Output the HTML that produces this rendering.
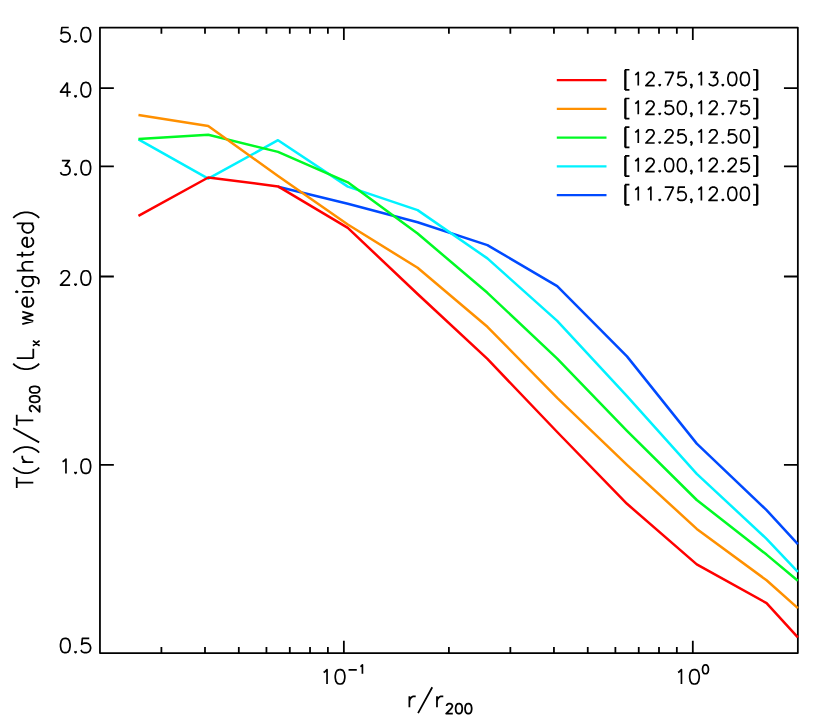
<!DOCTYPE html>
<html><head><meta charset="utf-8"><title>T(r)/T200 profile</title>
<style>
html,body{margin:0;padding:0;background:#fff;font-family:"Liberation Sans",sans-serif;}
svg{display:block;}
</style></head>
<body>
<svg width="830" height="718" viewBox="0 0 830 718">
<rect x="0" y="0" width="830" height="718" fill="#ffffff"/>
<path d="M99.95 27.6 H797.85 V653.1 H99.95 Z M99.95 653.1 v-6.2 M99.95 27.6 v6.2 M161.4 653.1 v-6.2 M161.4 27.6 v6.2 M204.99 653.1 v-6.2 M204.99 27.6 v6.2 M238.81 653.1 v-6.2 M238.81 27.6 v6.2 M266.44 653.1 v-6.2 M266.44 27.6 v6.2 M289.8 653.1 v-6.2 M289.8 27.6 v6.2 M310.04 653.1 v-6.2 M310.04 27.6 v6.2 M327.89 653.1 v-6.2 M327.89 27.6 v6.2 M343.86 653.1 v-12.45 M343.86 27.6 v12.45 M448.9 653.1 v-6.2 M448.9 27.6 v6.2 M510.35 653.1 v-6.2 M510.35 27.6 v6.2 M553.94 653.1 v-6.2 M553.94 27.6 v6.2 M587.76 653.1 v-6.2 M587.76 27.6 v6.2 M615.39 653.1 v-6.2 M615.39 27.6 v6.2 M638.75 653.1 v-6.2 M638.75 27.6 v6.2 M658.99 653.1 v-6.2 M658.99 27.6 v6.2 M676.84 653.1 v-6.2 M676.84 27.6 v6.2 M692.81 653.1 v-12.45 M692.81 27.6 v12.45 M797.85 653.1 v-6.2 M797.85 27.6 v6.2 M99.95 653.1 h13.9 M797.85 653.1 h-13.9 M99.95 464.81 h13.9 M797.85 464.81 h-13.9 M99.95 276.51 h13.9 M797.85 276.51 h-13.9 M99.95 166.37 h13.9 M797.85 166.37 h-13.9 M99.95 88.22 h13.9 M797.85 88.22 h-13.9 M99.95 27.6 h13.9 M797.85 27.6 h-13.9" fill="none" stroke="#000" stroke-width="1.78" stroke-linecap="butt" stroke-linejoin="round"/>
<g fill="none" stroke-width="2.5" stroke-linejoin="round" stroke-linecap="butt">
<polyline stroke="#004aff" points="278.03,186.8 347.82,203.7 417.61,222.2 487.4,245.1 557.19,286.1 626.98,356.4 696.77,443.6 766.56,510.1 797.85,544.1"/>
<polyline stroke="#00f2ff" points="138.45,139.3 208.24,178.7 278.03,140.2 347.82,186.6 417.61,210.1 487.4,258.4 557.19,320.9 626.98,396.2 696.77,473.9 766.56,538.8 797.85,571.9"/>
<polyline stroke="#00fa24" points="138.45,138.9 208.24,134.7 278.03,151.9 347.82,182.3 417.61,233.5 487.4,292.8 557.19,358.7 626.98,430.9 696.77,500 766.56,554.6 797.85,580.8"/>
<polyline stroke="#ff9000" points="138.45,115 208.24,125.9 278.03,176 347.82,224.5 417.61,267.8 487.4,326.8 557.19,397.8 626.98,464.8 696.77,528.9 766.56,580.3 797.85,608.1"/>
<polyline stroke="#ff0000" points="138.45,215.9 208.24,177.5 278.03,186.4 347.82,227.9 417.61,294 487.4,358.9 557.19,432 626.98,503.8 696.77,564.4 766.56,603.1 797.85,637.4"/>
</g>
<path d="M64.61 638.34 L62.55 639.02 L61.19 641.07 L60.5 644.49 L60.5 646.54 L61.19 649.96 L62.55 652.02 L64.61 652.7 L65.97 652.7 L68.03 652.02 L69.39 649.96 L70.08 646.54 L70.08 644.49 L69.39 641.07 L68.03 639.02 L65.97 638.34 L64.61 638.34 M75.55 651.33 L74.87 652.02 L75.55 652.7 L76.23 652.02 L75.55 651.33 M89.23 638.34 L82.39 638.34 L81.71 644.49 L82.39 643.81 L84.44 643.12 L86.49 643.12 L88.55 643.81 L89.91 645.18 L90.6 647.23 L90.6 648.6 L89.91 650.65 L88.55 652.02 L86.49 652.7 L84.44 652.7 L82.39 652.02 L81.71 651.33 L81.02 649.96 M62.55 461.78 L63.92 461.09 L65.97 459.04 L65.97 473.41 M75.55 472.04 L74.87 472.72 L75.55 473.41 L76.23 472.72 L75.55 472.04 M85.13 459.04 L83.07 459.73 L81.71 461.78 L81.02 465.2 L81.02 467.25 L81.71 470.67 L83.07 472.72 L85.13 473.41 L86.49 473.41 L88.55 472.72 L89.91 470.67 L90.6 467.25 L90.6 465.2 L89.91 461.78 L88.55 459.73 L86.49 459.04 L85.13 459.04 M61.19 274.17 L61.19 273.48 L61.87 272.12 L62.55 271.43 L63.92 270.75 L66.66 270.75 L68.03 271.43 L68.71 272.12 L69.39 273.48 L69.39 274.85 L68.71 276.22 L67.34 278.27 L60.5 285.11 L70.08 285.11 M75.55 283.74 L74.87 284.43 L75.55 285.11 L76.23 284.43 L75.55 283.74 M85.13 270.75 L83.07 271.43 L81.71 273.48 L81.02 276.9 L81.02 278.96 L81.71 282.38 L83.07 284.43 L85.13 285.11 L86.49 285.11 L88.55 284.43 L89.91 282.38 L90.6 278.96 L90.6 276.9 L89.91 273.48 L88.55 271.43 L86.49 270.75 L85.13 270.75 M61.87 160.6 L69.39 160.6 L65.29 166.07 L67.34 166.07 L68.71 166.76 L69.39 167.44 L70.08 169.49 L70.08 170.86 L69.39 172.91 L68.03 174.28 L65.97 174.97 L63.92 174.97 L61.87 174.28 L61.19 173.6 L60.5 172.23 M75.55 173.6 L74.87 174.28 L75.55 174.97 L76.23 174.28 L75.55 173.6 M85.13 160.6 L83.07 161.29 L81.71 163.34 L81.02 166.76 L81.02 168.81 L81.71 172.23 L83.07 174.28 L85.13 174.97 L86.49 174.97 L88.55 174.28 L89.91 172.23 L90.6 168.81 L90.6 166.76 L89.91 163.34 L88.55 161.29 L86.49 160.6 L85.13 160.6 M67.34 82.45 L60.5 92.03 L70.76 92.03 M67.34 82.45 L67.34 96.82 M75.55 95.45 L74.87 96.13 L75.55 96.82 L76.23 96.13 L75.55 95.45 M85.13 82.45 L83.07 83.14 L81.71 85.19 L81.02 88.61 L81.02 90.66 L81.71 94.08 L83.07 96.13 L85.13 96.82 L86.49 96.82 L88.55 96.13 L89.91 94.08 L90.6 90.66 L90.6 88.61 L89.91 85.19 L88.55 83.14 L86.49 82.45 L85.13 82.45 M68.71 27.5 L61.87 27.5 L61.19 33.66 L61.87 32.97 L63.92 32.29 L65.97 32.29 L68.03 32.97 L69.39 34.34 L70.08 36.39 L70.08 37.76 L69.39 39.81 L68.03 41.18 L65.97 41.86 L63.92 41.86 L61.87 41.18 L61.19 40.5 L60.5 39.13 M75.55 40.5 L74.87 41.18 L75.55 41.86 L76.23 41.18 L75.55 40.5 M85.13 27.5 L83.07 28.18 L81.71 30.24 L81.02 33.66 L81.02 35.71 L81.71 39.13 L83.07 41.18 L85.13 41.86 L86.49 41.86 L88.55 41.18 L89.91 39.13 L90.6 35.71 L90.6 33.66 L89.91 30.24 L88.55 28.18 L86.49 27.5 L85.13 27.5 M323.62 672.37 L324.99 671.69 L327.04 669.64 L327.04 684 M339.35 669.64 L337.3 670.32 L335.93 672.37 L335.25 675.79 L335.25 677.84 L335.93 681.26 L337.3 683.32 L339.35 684 L340.72 684 L342.77 683.32 L344.14 681.26 L344.82 677.84 L344.82 675.79 L344.14 672.37 L342.77 670.32 L340.72 669.64 L339.35 669.64 M348.56 669.97 L356.79 669.97 M360.32 666.61 L361.16 666.19 L362.42 664.93 L362.42 673.75 M678.03 672.37 L679.4 671.69 L681.45 669.64 L681.45 684 M693.76 669.64 L691.71 670.32 L690.34 672.37 L689.66 675.79 L689.66 677.84 L690.34 681.26 L691.71 683.32 L693.76 684 L695.13 684 L697.18 683.32 L698.55 681.26 L699.23 677.84 L699.23 675.79 L698.55 672.37 L697.18 670.32 L695.13 669.64 L693.76 669.64 M705.07 664.93 L703.81 665.35 L702.97 666.61 L702.55 668.71 L702.55 669.97 L702.97 672.07 L703.81 673.33 L705.07 673.75 L705.91 673.75 L707.17 673.33 L708.01 672.07 L708.43 669.97 L708.43 668.71 L708.01 666.61 L707.17 665.35 L705.91 664.93 L705.07 664.93" fill="none" stroke="#000" stroke-width="1.7" stroke-linecap="butt" stroke-linejoin="round"/>
<path d="M409.4 696.27 L409.4 707.3 M409.4 701 L410.19 698.63 L411.77 697.06 L413.34 696.27 L415.71 696.27 M432.25 687.22 L418.07 713.19 M436.98 696.27 L436.98 707.3 M436.98 701 L437.77 698.63 L439.35 697.06 L440.92 696.27 L443.29 696.27 M446.66 706.05 L446.66 705.58 L447.13 704.63 L447.61 704.16 L448.55 703.69 L450.44 703.69 L451.38 704.16 L451.85 704.63 L452.33 705.58 L452.33 706.52 L451.85 707.46 L450.91 708.88 L446.19 713.6 L452.8 713.6 M458.46 703.69 L457.05 704.16 L456.1 705.58 L455.63 707.94 L455.63 709.35 L456.1 711.71 L457.05 713.13 L458.46 713.6 L459.41 713.6 L460.82 713.13 L461.77 711.71 L462.24 709.35 L462.24 707.94 L461.77 705.58 L460.82 704.16 L459.41 703.69 L458.46 703.69 M467.9 703.69 L466.49 704.16 L465.54 705.58 L465.07 707.94 L465.07 709.35 L465.54 711.71 L466.49 713.13 L467.9 713.6 L468.85 713.6 L470.26 713.13 L471.21 711.71 L471.68 709.35 L471.68 707.94 L471.21 705.58 L470.26 704.16 L468.85 703.69 L467.9 703.69 M16.75 482.54 L33.3 482.54 M16.75 488.05 L16.75 477.02 M13.22 467.56 L14.85 469.14 L17.28 470.72 L20.53 472.29 L24.58 473.08 L27.83 473.08 L31.89 472.29 L35.14 470.72 L37.57 469.14 L39.19 467.56 M22.27 462.05 L33.3 462.05 M27 462.05 L24.63 461.26 L23.06 459.68 L22.27 458.11 L22.27 455.74 M13.22 452.59 L14.85 451.02 L17.28 449.44 L20.53 447.86 L24.58 447.08 L27.83 447.08 L31.89 447.86 L35.14 449.44 L37.57 451.02 L39.19 452.59 M13.22 428.16 L39.19 442.35 M16.75 420.28 L33.3 420.28 M16.75 425.8 L16.75 414.77 M32.05 411.39 L31.58 411.39 L30.63 410.92 L30.16 410.45 L29.69 409.5 L29.69 407.62 L30.16 406.67 L30.63 406.2 L31.58 405.73 L32.52 405.73 L33.46 406.2 L34.88 407.14 L39.6 411.86 L39.6 405.26 M29.69 399.59 L30.16 401.01 L31.58 401.95 L33.94 402.42 L35.35 402.42 L37.71 401.95 L39.13 401.01 L39.6 399.59 L39.6 398.65 L39.13 397.23 L37.71 396.29 L35.35 395.82 L33.94 395.82 L31.58 396.29 L30.16 397.23 L29.69 398.65 L29.69 399.59 M29.69 390.15 L30.16 391.57 L31.58 392.51 L33.94 392.98 L35.35 392.98 L37.71 392.51 L39.13 391.57 L39.6 390.15 L39.6 389.21 L39.13 387.79 L37.71 386.85 L35.35 386.38 L33.94 386.38 L31.58 386.85 L30.16 387.79 L29.69 389.21 L29.69 390.15 M13.22 363.68 L14.85 365.26 L17.28 366.84 L20.53 368.41 L24.58 369.2 L27.83 369.2 L31.89 368.41 L35.14 366.84 L37.57 365.26 L39.19 363.68 M16.75 358.17 L33.3 358.17 M33.3 358.17 L33.3 348.71 M32.99 345.81 L39.6 340.62 M32.99 340.62 L39.6 345.81 M22.27 324.23 L33.3 321.08 M22.27 317.92 L33.3 321.08 M22.27 317.92 L33.3 314.77 M22.27 311.62 L33.3 314.77 M27 306.89 L27 297.44 L25.42 297.44 L23.84 298.22 L23.06 299.01 L22.27 300.59 L22.27 302.95 L23.06 304.53 L24.63 306.1 L27 306.89 L28.57 306.89 L30.94 306.1 L32.51 304.53 L33.3 302.95 L33.3 300.59 L32.51 299.01 L30.94 297.44 M16.75 292.71 L17.54 291.92 L16.75 291.13 L15.96 291.92 L16.75 292.71 M22.27 291.92 L33.3 291.92 M22.27 276.95 L34.88 276.95 L37.24 277.74 L38.03 278.52 L38.82 280.1 L38.82 282.46 L38.03 284.04 M24.63 276.95 L23.06 278.52 L22.27 280.1 L22.27 282.46 L23.06 284.04 L24.63 285.62 L27 286.4 L28.57 286.4 L30.94 285.62 L32.51 284.04 L33.3 282.46 L33.3 280.1 L32.51 278.52 L30.94 276.95 M16.75 270.64 L33.3 270.64 M25.42 270.64 L23.06 268.28 L22.27 266.7 L22.27 264.34 L23.06 262.76 L25.42 261.98 L33.3 261.98 M16.75 254.88 L30.15 254.88 L32.51 254.1 L33.3 252.52 L33.3 250.94 M22.27 257.25 L22.27 251.73 M27 247 L27 237.55 L25.42 237.55 L23.84 238.34 L23.06 239.12 L22.27 240.7 L22.27 243.06 L23.06 244.64 L24.63 246.22 L27 247 L28.57 247 L30.94 246.22 L32.51 244.64 L33.3 243.06 L33.3 240.7 L32.51 239.12 L30.94 237.55 M16.75 223.36 L33.3 223.36 M24.63 223.36 L23.06 224.94 L22.27 226.52 L22.27 228.88 L23.06 230.46 L24.63 232.03 L27 232.82 L28.57 232.82 L30.94 232.03 L32.51 230.46 L33.3 228.88 L33.3 226.52 L32.51 224.94 L30.94 223.36 M13.22 217.85 L14.85 216.27 L17.28 214.7 L20.53 213.12 L24.58 212.33 L27.83 212.33 L31.89 213.12 L35.14 214.7 L37.57 216.27 L39.19 217.85" fill="none" stroke="#000" stroke-width="1.78" stroke-linecap="butt" stroke-linejoin="round"/>
<g fill="none" stroke-width="2.2" stroke-linecap="butt">
<path stroke="#ff0000" d="M556.8 80.2 H606.5"/>
<path stroke="#ff9000" d="M556.8 108.93 H606.5"/>
<path stroke="#00fa24" d="M556.8 137.65 H606.5"/>
<path stroke="#00f2ff" d="M556.8 166.38 H606.5"/>
<path stroke="#004aff" d="M556.8 195.1 H606.5"/>
</g>
<path d="M625.02 69.77 L625.02 89.97 M625.65 69.77 L625.65 89.97 M625.02 69.77 L629.44 69.77 M625.02 89.97 L629.44 89.97 M635.12 74.82 L636.38 74.19 L638.27 72.3 L638.27 85.55 M646.48 75.45 L646.48 74.82 L647.11 73.56 L647.74 72.93 L649 72.3 L651.53 72.3 L652.79 72.93 L653.42 73.56 L654.05 74.82 L654.05 76.08 L653.42 77.35 L652.16 79.24 L645.85 85.55 L654.68 85.55 M659.73 84.29 L659.1 84.92 L659.73 85.55 L660.36 84.92 L659.73 84.29 M673.61 72.3 L667.3 85.55 M664.78 72.3 L673.61 72.3 M684.97 72.3 L678.66 72.3 L678.03 77.98 L678.66 77.35 L680.55 76.72 L682.45 76.72 L684.34 77.35 L685.6 78.61 L686.23 80.5 L686.23 81.76 L685.6 83.66 L684.34 84.92 L682.45 85.55 L680.55 85.55 L678.66 84.92 L678.03 84.29 L677.4 83.03 M691.91 84.92 L691.28 85.55 L690.65 84.92 L691.28 84.29 L691.91 84.92 L691.91 86.18 L691.28 87.44 L690.65 88.07 M698.22 74.82 L699.48 74.19 L701.38 72.3 L701.38 85.55 M710.21 72.3 L717.15 72.3 L713.36 77.35 L715.26 77.35 L716.52 77.98 L717.15 78.61 L717.78 80.5 L717.78 81.76 L717.15 83.66 L715.89 84.92 L714 85.55 L712.1 85.55 L710.21 84.92 L709.58 84.29 L708.95 83.03 M722.83 84.29 L722.2 84.92 L722.83 85.55 L723.46 84.92 L722.83 84.29 M731.66 72.3 L729.77 72.93 L728.51 74.82 L727.88 77.98 L727.88 79.87 L728.51 83.03 L729.77 84.92 L731.66 85.55 L732.92 85.55 L734.82 84.92 L736.08 83.03 L736.71 79.87 L736.71 77.98 L736.08 74.82 L734.82 72.93 L732.92 72.3 L731.66 72.3 M744.28 72.3 L742.39 72.93 L741.13 74.82 L740.5 77.98 L740.5 79.87 L741.13 83.03 L742.39 84.92 L744.28 85.55 L745.54 85.55 L747.44 84.92 L748.7 83.03 L749.33 79.87 L749.33 77.98 L748.7 74.82 L747.44 72.93 L745.54 72.3 L744.28 72.3 M756.9 69.77 L756.9 89.97 M757.53 69.77 L757.53 89.97 M753.12 69.77 L757.53 69.77 M753.12 89.97 L757.53 89.97 M625.02 98.5 L625.02 118.69 M625.65 98.5 L625.65 118.69 M625.02 98.5 L629.44 98.5 M625.02 118.69 L629.44 118.69 M635.12 103.55 L636.38 102.92 L638.27 101.02 L638.27 114.28 M646.48 104.18 L646.48 103.55 L647.11 102.29 L647.74 101.66 L649 101.02 L651.53 101.02 L652.79 101.66 L653.42 102.29 L654.05 103.55 L654.05 104.81 L653.42 106.07 L652.16 107.97 L645.85 114.28 L654.68 114.28 M659.73 113.01 L659.1 113.64 L659.73 114.28 L660.36 113.64 L659.73 113.01 M672.35 101.02 L666.04 101.02 L665.41 106.7 L666.04 106.07 L667.93 105.44 L669.83 105.44 L671.72 106.07 L672.98 107.33 L673.61 109.23 L673.61 110.49 L672.98 112.38 L671.72 113.64 L669.83 114.28 L667.93 114.28 L666.04 113.64 L665.41 113.01 L664.78 111.75 M681.18 101.02 L679.29 101.66 L678.03 103.55 L677.4 106.7 L677.4 108.6 L678.03 111.75 L679.29 113.64 L681.18 114.28 L682.45 114.28 L684.34 113.64 L685.6 111.75 L686.23 108.6 L686.23 106.7 L685.6 103.55 L684.34 101.66 L682.45 101.02 L681.18 101.02 M691.91 113.64 L691.28 114.28 L690.65 113.64 L691.28 113.01 L691.91 113.64 L691.91 114.91 L691.28 116.17 L690.65 116.8 M698.22 103.55 L699.48 102.92 L701.38 101.02 L701.38 114.28 M709.58 104.18 L709.58 103.55 L710.21 102.29 L710.84 101.66 L712.1 101.02 L714.63 101.02 L715.89 101.66 L716.52 102.29 L717.15 103.55 L717.15 104.81 L716.52 106.07 L715.26 107.97 L708.95 114.28 L717.78 114.28 M722.83 113.01 L722.2 113.64 L722.83 114.28 L723.46 113.64 L722.83 113.01 M736.71 101.02 L730.4 114.28 M727.88 101.02 L736.71 101.02 M748.07 101.02 L741.76 101.02 L741.13 106.7 L741.76 106.07 L743.65 105.44 L745.54 105.44 L747.44 106.07 L748.7 107.33 L749.33 109.23 L749.33 110.49 L748.7 112.38 L747.44 113.64 L745.54 114.28 L743.65 114.28 L741.76 113.64 L741.13 113.01 L740.5 111.75 M756.9 98.5 L756.9 118.69 M757.53 98.5 L757.53 118.69 M753.12 98.5 L757.53 98.5 M753.12 118.69 L757.53 118.69 M625.02 127.22 L625.02 147.42 M625.65 127.22 L625.65 147.42 M625.02 127.22 L629.44 127.22 M625.02 147.42 L629.44 147.42 M635.12 132.27 L636.38 131.64 L638.27 129.75 L638.27 143 M646.48 132.9 L646.48 132.27 L647.11 131.01 L647.74 130.38 L649 129.75 L651.53 129.75 L652.79 130.38 L653.42 131.01 L654.05 132.27 L654.05 133.53 L653.42 134.8 L652.16 136.69 L645.85 143 L654.68 143 M659.73 141.74 L659.1 142.37 L659.73 143 L660.36 142.37 L659.73 141.74 M665.41 132.9 L665.41 132.27 L666.04 131.01 L666.67 130.38 L667.93 129.75 L670.46 129.75 L671.72 130.38 L672.35 131.01 L672.98 132.27 L672.98 133.53 L672.35 134.8 L671.09 136.69 L664.78 143 L673.61 143 M684.97 129.75 L678.66 129.75 L678.03 135.43 L678.66 134.8 L680.55 134.17 L682.45 134.17 L684.34 134.8 L685.6 136.06 L686.23 137.95 L686.23 139.21 L685.6 141.11 L684.34 142.37 L682.45 143 L680.55 143 L678.66 142.37 L678.03 141.74 L677.4 140.48 M691.91 142.37 L691.28 143 L690.65 142.37 L691.28 141.74 L691.91 142.37 L691.91 143.63 L691.28 144.89 L690.65 145.52 M698.22 132.27 L699.48 131.64 L701.38 129.75 L701.38 143 M709.58 132.9 L709.58 132.27 L710.21 131.01 L710.84 130.38 L712.1 129.75 L714.63 129.75 L715.89 130.38 L716.52 131.01 L717.15 132.27 L717.15 133.53 L716.52 134.8 L715.26 136.69 L708.95 143 L717.78 143 M722.83 141.74 L722.2 142.37 L722.83 143 L723.46 142.37 L722.83 141.74 M735.45 129.75 L729.14 129.75 L728.51 135.43 L729.14 134.8 L731.03 134.17 L732.92 134.17 L734.82 134.8 L736.08 136.06 L736.71 137.95 L736.71 139.21 L736.08 141.11 L734.82 142.37 L732.92 143 L731.03 143 L729.14 142.37 L728.51 141.74 L727.88 140.48 M744.28 129.75 L742.39 130.38 L741.13 132.27 L740.5 135.43 L740.5 137.32 L741.13 140.48 L742.39 142.37 L744.28 143 L745.54 143 L747.44 142.37 L748.7 140.48 L749.33 137.32 L749.33 135.43 L748.7 132.27 L747.44 130.38 L745.54 129.75 L744.28 129.75 M756.9 127.22 L756.9 147.42 M757.53 127.22 L757.53 147.42 M753.12 127.22 L757.53 127.22 M753.12 147.42 L757.53 147.42 M625.02 155.95 L625.02 176.14 M625.65 155.95 L625.65 176.14 M625.02 155.95 L629.44 155.95 M625.02 176.14 L629.44 176.14 M635.12 161 L636.38 160.37 L638.27 158.47 L638.27 171.72 M646.48 161.63 L646.48 161 L647.11 159.74 L647.74 159.1 L649 158.47 L651.53 158.47 L652.79 159.1 L653.42 159.74 L654.05 161 L654.05 162.26 L653.42 163.52 L652.16 165.41 L645.85 171.72 L654.68 171.72 M659.73 170.46 L659.1 171.09 L659.73 171.72 L660.36 171.09 L659.73 170.46 M668.56 158.47 L666.67 159.1 L665.41 161 L664.78 164.15 L664.78 166.05 L665.41 169.2 L666.67 171.09 L668.56 171.72 L669.83 171.72 L671.72 171.09 L672.98 169.2 L673.61 166.05 L673.61 164.15 L672.98 161 L671.72 159.1 L669.83 158.47 L668.56 158.47 M681.18 158.47 L679.29 159.1 L678.03 161 L677.4 164.15 L677.4 166.05 L678.03 169.2 L679.29 171.09 L681.18 171.72 L682.45 171.72 L684.34 171.09 L685.6 169.2 L686.23 166.05 L686.23 164.15 L685.6 161 L684.34 159.1 L682.45 158.47 L681.18 158.47 M691.91 171.09 L691.28 171.72 L690.65 171.09 L691.28 170.46 L691.91 171.09 L691.91 172.36 L691.28 173.62 L690.65 174.25 M698.22 161 L699.48 160.37 L701.38 158.47 L701.38 171.72 M709.58 161.63 L709.58 161 L710.21 159.74 L710.84 159.1 L712.1 158.47 L714.63 158.47 L715.89 159.1 L716.52 159.74 L717.15 161 L717.15 162.26 L716.52 163.52 L715.26 165.41 L708.95 171.72 L717.78 171.72 M722.83 170.46 L722.2 171.09 L722.83 171.72 L723.46 171.09 L722.83 170.46 M728.51 161.63 L728.51 161 L729.14 159.74 L729.77 159.1 L731.03 158.47 L733.56 158.47 L734.82 159.1 L735.45 159.74 L736.08 161 L736.08 162.26 L735.45 163.52 L734.19 165.41 L727.88 171.72 L736.71 171.72 M748.07 158.47 L741.76 158.47 L741.13 164.15 L741.76 163.52 L743.65 162.89 L745.54 162.89 L747.44 163.52 L748.7 164.78 L749.33 166.68 L749.33 167.94 L748.7 169.83 L747.44 171.09 L745.54 171.72 L743.65 171.72 L741.76 171.09 L741.13 170.46 L740.5 169.2 M756.9 155.95 L756.9 176.14 M757.53 155.95 L757.53 176.14 M753.12 155.95 L757.53 155.95 M753.12 176.14 L757.53 176.14 M625.02 184.68 L625.02 204.87 M625.65 184.68 L625.65 204.87 M625.02 184.68 L629.44 184.68 M625.02 204.87 L629.44 204.87 M635.12 189.72 L636.38 189.09 L638.27 187.2 L638.27 200.45 M647.74 189.72 L649 189.09 L650.89 187.2 L650.89 200.45 M659.73 199.19 L659.1 199.82 L659.73 200.45 L660.36 199.82 L659.73 199.19 M673.61 187.2 L667.3 200.45 M664.78 187.2 L673.61 187.2 M684.97 187.2 L678.66 187.2 L678.03 192.88 L678.66 192.25 L680.55 191.62 L682.45 191.62 L684.34 192.25 L685.6 193.51 L686.23 195.4 L686.23 196.66 L685.6 198.56 L684.34 199.82 L682.45 200.45 L680.55 200.45 L678.66 199.82 L678.03 199.19 L677.4 197.93 M691.91 199.82 L691.28 200.45 L690.65 199.82 L691.28 199.19 L691.91 199.82 L691.91 201.08 L691.28 202.34 L690.65 202.97 M698.22 189.72 L699.48 189.09 L701.38 187.2 L701.38 200.45 M709.58 190.35 L709.58 189.72 L710.21 188.46 L710.84 187.83 L712.1 187.2 L714.63 187.2 L715.89 187.83 L716.52 188.46 L717.15 189.72 L717.15 190.99 L716.52 192.25 L715.26 194.14 L708.95 200.45 L717.78 200.45 M722.83 199.19 L722.2 199.82 L722.83 200.45 L723.46 199.82 L722.83 199.19 M731.66 187.2 L729.77 187.83 L728.51 189.72 L727.88 192.88 L727.88 194.77 L728.51 197.93 L729.77 199.82 L731.66 200.45 L732.92 200.45 L734.82 199.82 L736.08 197.93 L736.71 194.77 L736.71 192.88 L736.08 189.72 L734.82 187.83 L732.92 187.2 L731.66 187.2 M744.28 187.2 L742.39 187.83 L741.13 189.72 L740.5 192.88 L740.5 194.77 L741.13 197.93 L742.39 199.82 L744.28 200.45 L745.54 200.45 L747.44 199.82 L748.7 197.93 L749.33 194.77 L749.33 192.88 L748.7 189.72 L747.44 187.83 L745.54 187.2 L744.28 187.2 M756.9 184.68 L756.9 204.87 M757.53 184.68 L757.53 204.87 M753.12 184.68 L757.53 184.68 M753.12 204.87 L757.53 204.87" fill="none" stroke="#000" stroke-width="1.7" stroke-linecap="butt" stroke-linejoin="round"/>
</svg>
</body></html>
